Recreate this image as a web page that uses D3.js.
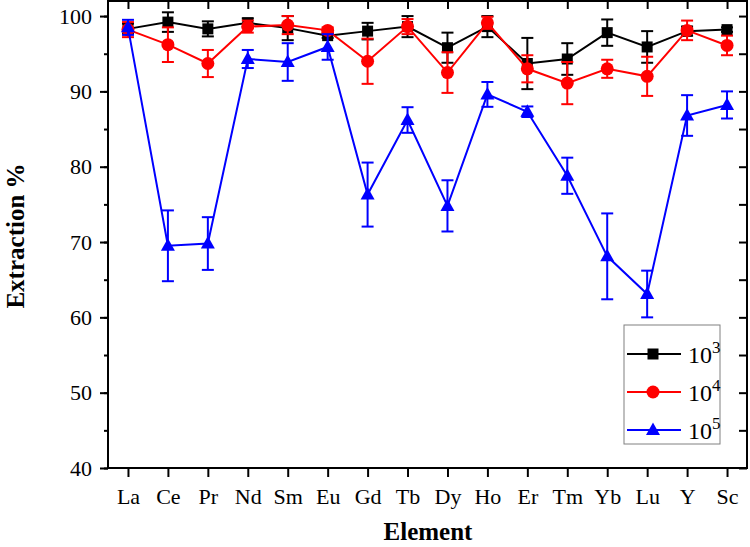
<!DOCTYPE html>
<html>
<head>
<meta charset="utf-8">
<script src="https://cdnjs.cloudflare.com/ajax/libs/d3/7.8.5/d3.min.js"></script>
<style>
  body { margin: 0; background: #fff; }
  text { font-family: "Liberation Serif", "Times New Roman", serif; }
</style>
</head>
<body>
<div id="plot-container"></div>
<script>
// data
var elements = ["La", "Ce", "Pr", "Nd", "Sm", "Eu", "Gd", "Tb", "Dy", "Ho", "Er", "Tm", "Yb", "Lu", "Y", "Sc"];

var ext3 = [98.3, 99.2, 98.3, 99.1, 98.4, 97.4, 98.0, 98.6, 95.8, 98.6, 93.7, 94.3, 97.8, 95.9, 98.0, 98.2];
var err3 = [0.7, 1.3, 1.0, 0.6, 1.6, 0.3, 1.1, 1.4, 2.0, 1.4, 3.4, 2.1, 1.75, 2.1, 0.6, 0.3];

var ext4 = [98.2, 96.2, 93.7, 98.6, 98.8, 98.1, 94.0, 98.6, 92.5, 99.1, 93.0, 91.1, 93.0, 92.0, 98.1, 96.1];
var err4 = [1.0, 2.3, 1.8, 0.8, 1.2, 0.4, 3.0, 1.0, 2.7, 0.8, 1.8, 2.8, 1.2, 2.6, 1.3, 1.3];

var ext5 = [98.5, 69.5, 69.8, 94.3, 93.9, 95.9, 76.3, 86.2, 74.8, 89.6, 87.3, 78.8, 68.1, 63.1, 86.8, 88.2];
var err5 = [1.0, 4.7, 3.5, 1.2, 2.5, 1.7, 4.25, 1.7, 3.4, 1.65, 0.7, 2.4, 5.7, 3.1, 2.7, 1.8];

var yTicks = [40, 50, 60, 70, 80, 90, 100];

var series = [
  { name: "3", values: ext3, errors: err3, color: "#000000", marker: "square" },
  { name: "4", values: ext4, errors: err4, color: "#ff0000", marker: "circle" },
  { name: "5", values: ext5, errors: err5, color: "#0000ff", marker: "triangle" }
];

// plot parameters
var width = 750, height = 547;
var plotLeft = 108, plotRight = 747, plotTop = 1, plotBottom = 468;

var svg = d3.select("#plot-container")
            .append("svg")
            .attr("width", width)
            .attr("height", height);

var xScale = d3.scalePoint()
               .domain(elements)
               .range([plotLeft, plotRight])
               .padding(0.5);

var yScale = d3.scaleLinear()
               .domain([40, 102])
               .range([plotBottom, plotTop]);

var minorTicks = d3.range(40, 102, 5);

// axes
svg.append("g")
   .attr("transform", "translate(" + plotLeft + ",0)")
   .call(d3.axisLeft(yScale).tickValues(minorTicks).tickSize(4).tickFormat(""));
svg.append("g")
   .attr("class", "yaxis")
   .attr("transform", "translate(" + plotLeft + ",0)")
   .call(d3.axisLeft(yScale).tickValues(yTicks).tickSize(8).tickPadding(8));
svg.append("g")
   .attr("transform", "translate(" + plotRight + ",0)")
   .call(d3.axisRight(yScale).tickValues(minorTicks).tickSize(-8).tickFormat(""));
svg.append("g")
   .attr("class", "xaxis")
   .attr("transform", "translate(0," + plotBottom + ")")
   .call(d3.axisBottom(xScale).tickSize(9).tickPadding(11));
svg.append("g")
   .attr("transform", "translate(0," + plotTop + ")")
   .call(d3.axisBottom(xScale).tickSize(8).tickFormat(""));

svg.selectAll(".domain").remove();
svg.selectAll(".tick line").attr("stroke", "#000").attr("stroke-width", 2);
svg.selectAll(".yaxis text, .xaxis text")
   .attr("font-size", 22)
   .attr("font-family", "Liberation Serif, serif")
   .attr("fill", "#000");

// frame
svg.append("rect")
   .attr("x", plotLeft).attr("y", plotTop)
   .attr("width", plotRight - plotLeft).attr("height", plotBottom - plotTop)
   .attr("fill", "none").attr("stroke", "#000").attr("stroke-width", 2);

// axis titles
svg.append("text")
   .attr("transform", "translate(24,236) rotate(-90)")
   .attr("text-anchor", "middle")
   .attr("font-size", 25).attr("font-weight", "bold")
   .text("Extraction %");
svg.append("text")
   .attr("x", 428).attr("y", 540)
   .attr("text-anchor", "middle")
   .attr("font-size", 25).attr("font-weight", "bold")
   .text("Element");

function drawMarker(g, type, color) {
  if (type === "square") {
    g.append("rect").attr("x", -5.5).attr("y", -5.5).attr("width", 11).attr("height", 11).attr("fill", color);
  } else if (type === "circle") {
    g.append("circle").attr("r", 6.5).attr("fill", color);
  } else {
    g.append("path").attr("d", "M0,-7.5L7,5L-7,5Z").attr("fill", color);
  }
}

var line = d3.line()
             .x(function(d, i){ return xScale(elements[i]); })
             .y(function(d){ return yScale(d); });

series.forEach(function(s) {
  var g = svg.append("g");
  g.append("path")
   .attr("d", line(s.values))
   .attr("fill", "none")
   .attr("stroke", s.color)
   .attr("stroke-width", 2);

  s.values.forEach(function(v, i) {
    var x = xScale(elements[i]);
    var y1 = yScale(v + s.errors[i]), y2 = yScale(v - s.errors[i]);
    var eb = g.append("g").attr("stroke", s.color).attr("stroke-width", 2);
    eb.append("line").attr("x1", x).attr("x2", x).attr("y1", y1).attr("y2", y2);
    eb.append("line").attr("x1", x - 6).attr("x2", x + 6).attr("y1", y1).attr("y2", y1);
    eb.append("line").attr("x1", x - 6).attr("x2", x + 6).attr("y1", y2).attr("y2", y2);
  });

  s.values.forEach(function(v, i) {
    var m = g.append("g").attr("transform", "translate(" + xScale(elements[i]) + "," + yScale(v) + ")");
    drawMarker(m, s.marker, s.color);
  });
});

// legend
var legend = svg.append("g").attr("transform", "translate(624,325)");
legend.append("rect")
      .attr("width", 96).attr("height", 119)
      .attr("fill", "#fff").attr("stroke", "#808080").attr("stroke-width", 1);

series.forEach(function(s, i) {
  var row = legend.append("g").attr("transform", "translate(0," + (29 + i * 38) + ")");
  row.append("line").attr("x1", 3).attr("x2", 57).attr("y1", 0).attr("y2", 0)
     .attr("stroke", s.color).attr("stroke-width", 2);
  drawMarker(row.append("g").attr("transform", "translate(29,0)"), s.marker, s.color);
  var t = row.append("text").attr("x", 64).attr("y", 9).attr("font-size", 24);
  t.append("tspan").text("10");
  t.append("tspan").attr("dy", -10).attr("font-size", 17).text(s.name);
});
</script>
</body>
</html>
